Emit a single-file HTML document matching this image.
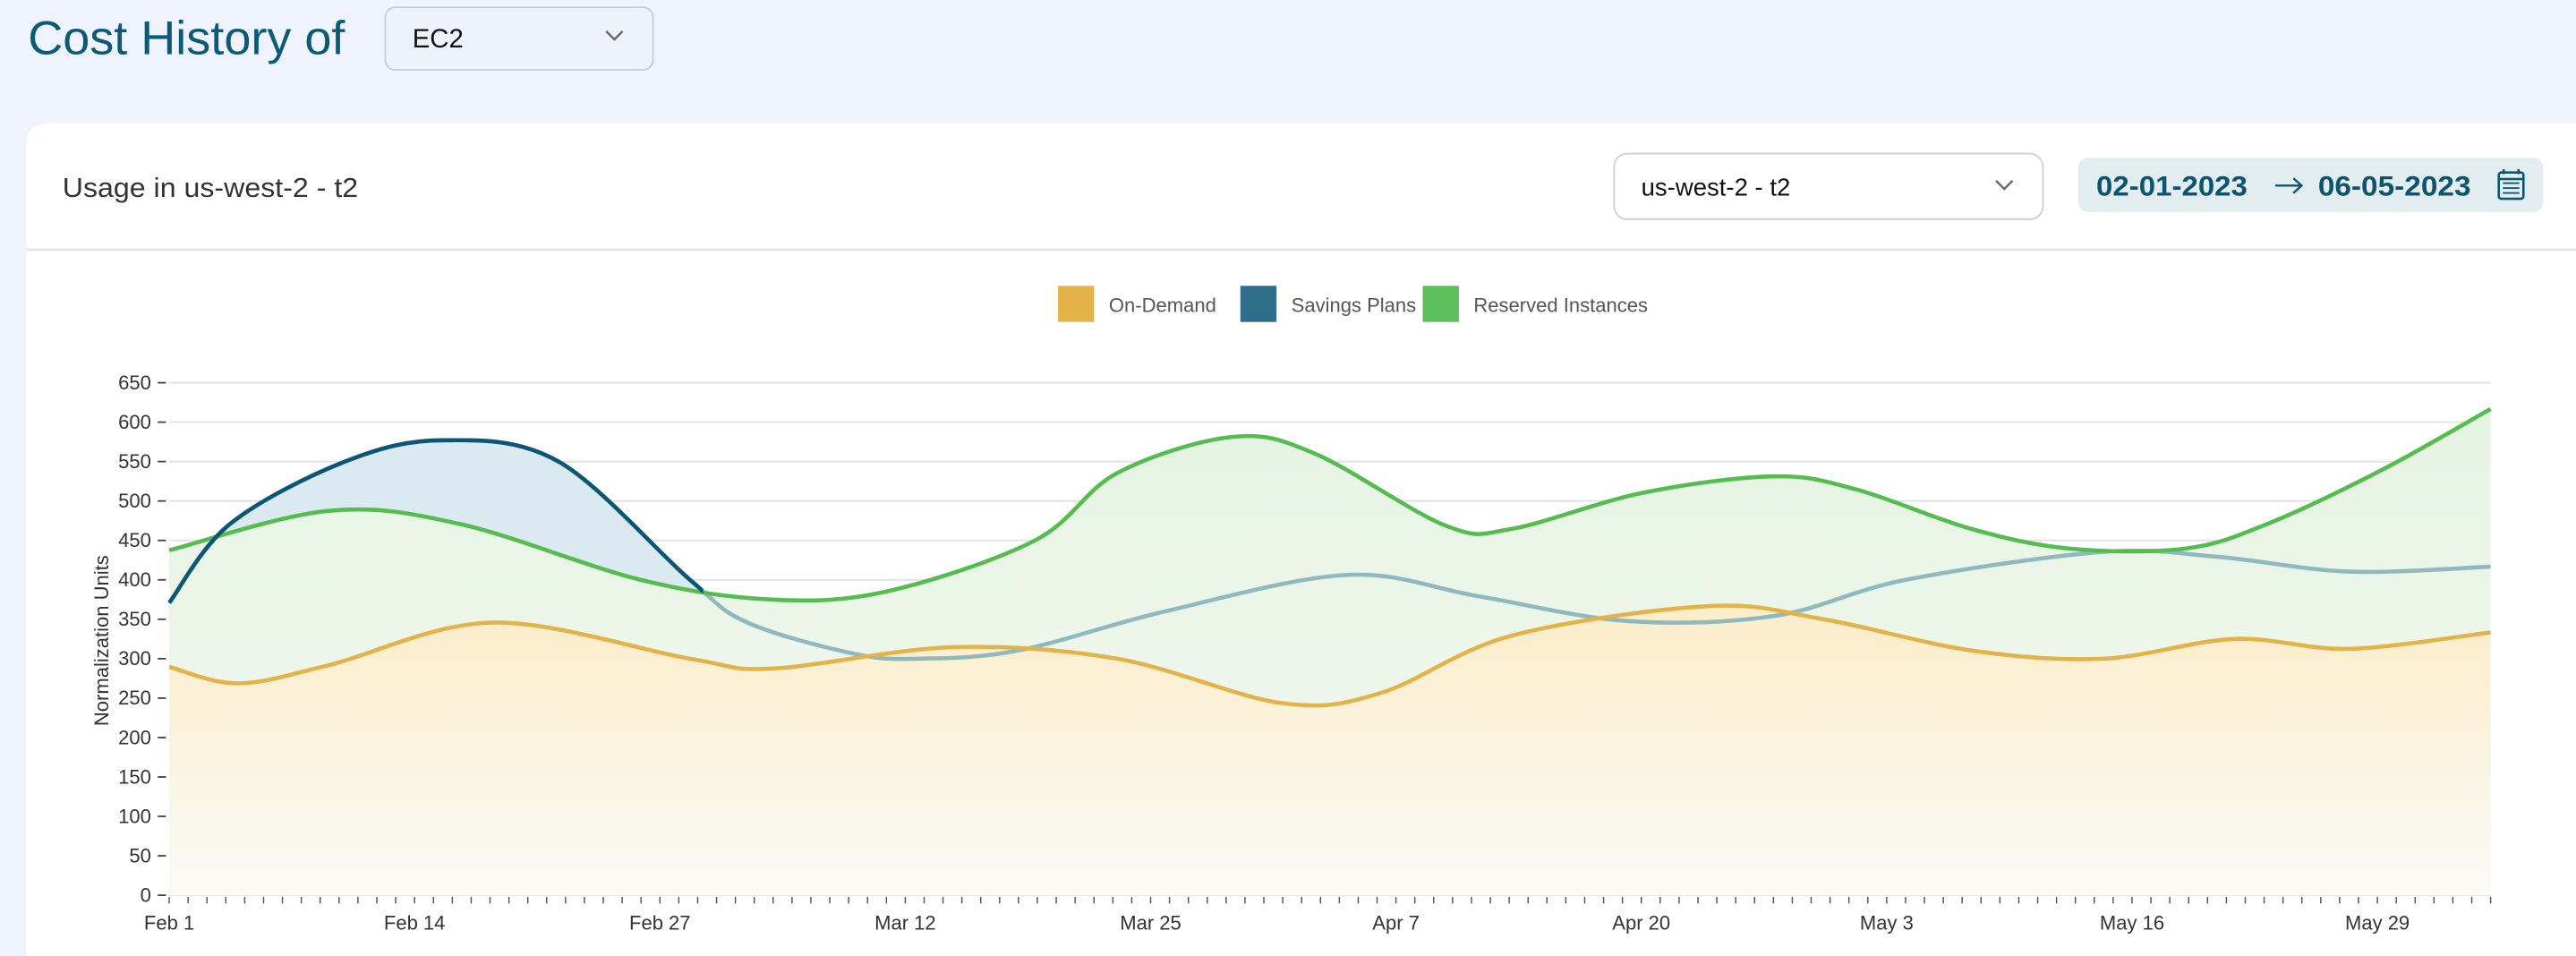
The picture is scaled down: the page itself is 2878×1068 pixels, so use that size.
<!DOCTYPE html>
<html><head><meta charset="utf-8"><style>
html,body{margin:0;padding:0;background:#eef3fd;}
svg{display:block;font-family:"Liberation Sans",sans-serif;}
</style></head><body>
<svg id="s" width="2878" height="1068" viewBox="0 0 1568 582" preserveAspectRatio="none">
<defs>
<linearGradient id="go" x1="0" y1="0" x2="0" y2="1"><stop offset="0" stop-color="#fbedc9"/><stop offset="1" stop-color="#fafaf6"/></linearGradient>
<linearGradient id="gg" x1="0" y1="0" x2="0" y2="1"><stop offset="0" stop-color="#e6f4e3"/><stop offset="1" stop-color="#f2f8f0"/></linearGradient>
<clipPath id="cb"><rect x="100" y="200" width="328" height="400"/></clipPath>
</defs>
<rect width="1568" height="582" fill="#eef3fd"/>
<text x="17" y="33" font-size="29" fill="#0b5a78" textLength="193" lengthAdjust="spacingAndGlyphs">Cost History of</text>
<rect x="234.5" y="4.5" width="163" height="38" rx="6" fill="#eef2fb" stroke="#c8ccd6"/>
<text x="251" y="29" font-size="16" fill="#111">EC2</text>
<path d="M369 19 l5 5 l5 -5" fill="none" stroke="#666" stroke-width="1.3"/>
<rect x="16" y="75" width="1570" height="520" rx="12" fill="#fff"/>
<text x="38" y="120" font-size="16.5" fill="#333" textLength="180" lengthAdjust="spacingAndGlyphs">Usage in us-west-2 - t2</text>
<line x1="16" y1="152" x2="1568" y2="152" stroke="#e3e3e3" stroke-width="1.5"/>
<rect x="982.5" y="93.5" width="261" height="40" rx="8" fill="#fff" stroke="#d0d0d0"/>
<text x="999" y="119" font-size="15" fill="#111">us-west-2 - t2</text>
<path d="M1215 110 l5 5 l5 -5" fill="none" stroke="#666" stroke-width="1.3"/>
<rect x="1265" y="96" width="283" height="33" rx="6" fill="#e3edf0"/>
<text x="1276" y="119" font-size="17" font-weight="bold" fill="#0b5570" textLength="92" lengthAdjust="spacingAndGlyphs">02-01-2023</text>
<path d="M1385 113 h16 M1396 108.5 l5 4.5 l-5 4.5" fill="none" stroke="#0b5570" stroke-width="1.3"/>
<text x="1411" y="119" font-size="17" font-weight="bold" fill="#0b5570" textLength="93" lengthAdjust="spacingAndGlyphs">06-05-2023</text>
<g fill="none" stroke="#0b5570" stroke-width="1.4"><rect x="1521" y="105" width="15" height="16" rx="1.5"/><line x1="1521" y1="109" x2="1536" y2="109"/><line x1="1524" y1="103" x2="1524" y2="106"/><line x1="1533" y1="103" x2="1533" y2="106"/></g>
<g fill="#0b5570"><rect x="1523.5" y="111" width="10" height="1"/><rect x="1523.5" y="114" width="10" height="1"/><rect x="1523.5" y="117" width="10" height="1"/></g>
<rect x="644" y="174" width="22" height="22" fill="#e3b34a"/><text x="675" y="190" font-size="12" fill="#555">On-Demand</text>
<rect x="755" y="174" width="22" height="22" fill="#2e6e8a"/><text x="786" y="190" font-size="12" fill="#555">Savings Plans</text>
<rect x="866" y="174" width="22" height="22" fill="#5bbf5b"/><text x="897" y="190" font-size="12" fill="#555">Reserved Instances</text>
<g id="grid"></g>
<g id="plot"></g>
<text transform="translate(66,390) rotate(-90)" text-anchor="middle" font-size="12" fill="#333">Normalization Units</text>
</svg>
<script>
var NS="http://www.w3.org/2000/svg";
function el(p,t,a,txt){var e=document.createElementNS(NS,t);for(var k in a)e.setAttribute(k,a[k]);if(txt!=null)e.textContent=txt;p.appendChild(e);return e;}
var g=document.getElementById('grid'),pl=document.getElementById('plot');
for(var v=0;v<=650;v+=50){var y=545-v*0.48;
 el(g,'line',{x1:103,x2:1516,y1:y,y2:y,stroke:'#e2e2e2','stroke-width':1});
 el(g,'line',{x1:96,x2:101,y1:y,y2:y,stroke:'#444','stroke-width':1});
 el(g,'text',{x:92,y:y+4,'text-anchor':'end','font-size':12,fill:'#333'},String(v));}
for(var d=0;d<=123;d++){var x=103+d*11.488;el(g,'line',{x1:x,x2:x,y1:546,y2:550,stroke:'#555','stroke-width':0.8});}
var labs=['Feb 1','Feb 14','Feb 27','Mar 12','Mar 25','Apr 7','Apr 20','May 3','May 16','May 29'];
labs.forEach(function(l,i){el(g,'text',{x:103+i*13*11.488,y:566,'text-anchor':'middle','font-size':12,fill:'#333'},l);});
function path(p){var s='M'+p[0][0]+' '+p[0][1];for(var i=0;i<p.length-1;i++){var p0=p[i-1]||p[i],p1=p[i],p2=p[i+1],p3=p[i+2]||p2;
 s+=' C'+(p1[0]+(p2[0]-p0[0])/6)+' '+(p1[1]+(p2[1]-p0[1])/6)+' '+(p2[0]-(p3[0]-p1[0])/6)+' '+(p2[1]-(p3[1]-p1[1])/6)+' '+p2[0]+' '+p2[1];}return s;}
var O=[[103,406],[145,416],[200,405],[300,379],[420,401],[470,407],[580,394],[680,401],[780,428],[840,422],[920,387],[1040,369],[1110,377],[1200,396],[1280,401],[1360,389],[1430,395],[1516,385]];
var B=[[103,367],[140,319],[210,281],[270,268],[340,281],[420,353],[455,379],[520,398],[560,401],[620,396],[710,372],[820,350],[900,363],[990,378],[1080,375],[1160,353],[1280,336],[1350,339],[1430,348],[1516,345]];
var G=[[103,335],[200,311],[280,319],[390,353],[470,365],[540,360],[630,329],[680,288],[750,266],[800,276],[880,320],[920,322],[1000,300],[1080,290],[1130,298],[1200,322],[1260,334],[1330,334],[1380,319],[1450,286],[1516,249]];
function area(p){return path(p)+' L1516 545 L103 545 Z';}
el(pl,'path',{d:area(B),fill:'#dbe9f0'});
el(pl,'path',{d:area(G),fill:'url(#gg)'});
el(pl,'path',{d:area(O),fill:'url(#go)'});
el(pl,'path',{d:path(B),fill:'none',stroke:'#8fb8bf','stroke-width':2.5});
el(pl,'path',{d:path(G),fill:'none',stroke:'#55bd4f','stroke-width':2.5});
el(pl,'path',{d:path(B),fill:'none',stroke:'#0b5575','stroke-width':2.5,'clip-path':'url(#cb)'});
el(pl,'path',{d:path(O),fill:'none',stroke:'#e3b34a','stroke-width':2.5});
</script>
</body></html>
